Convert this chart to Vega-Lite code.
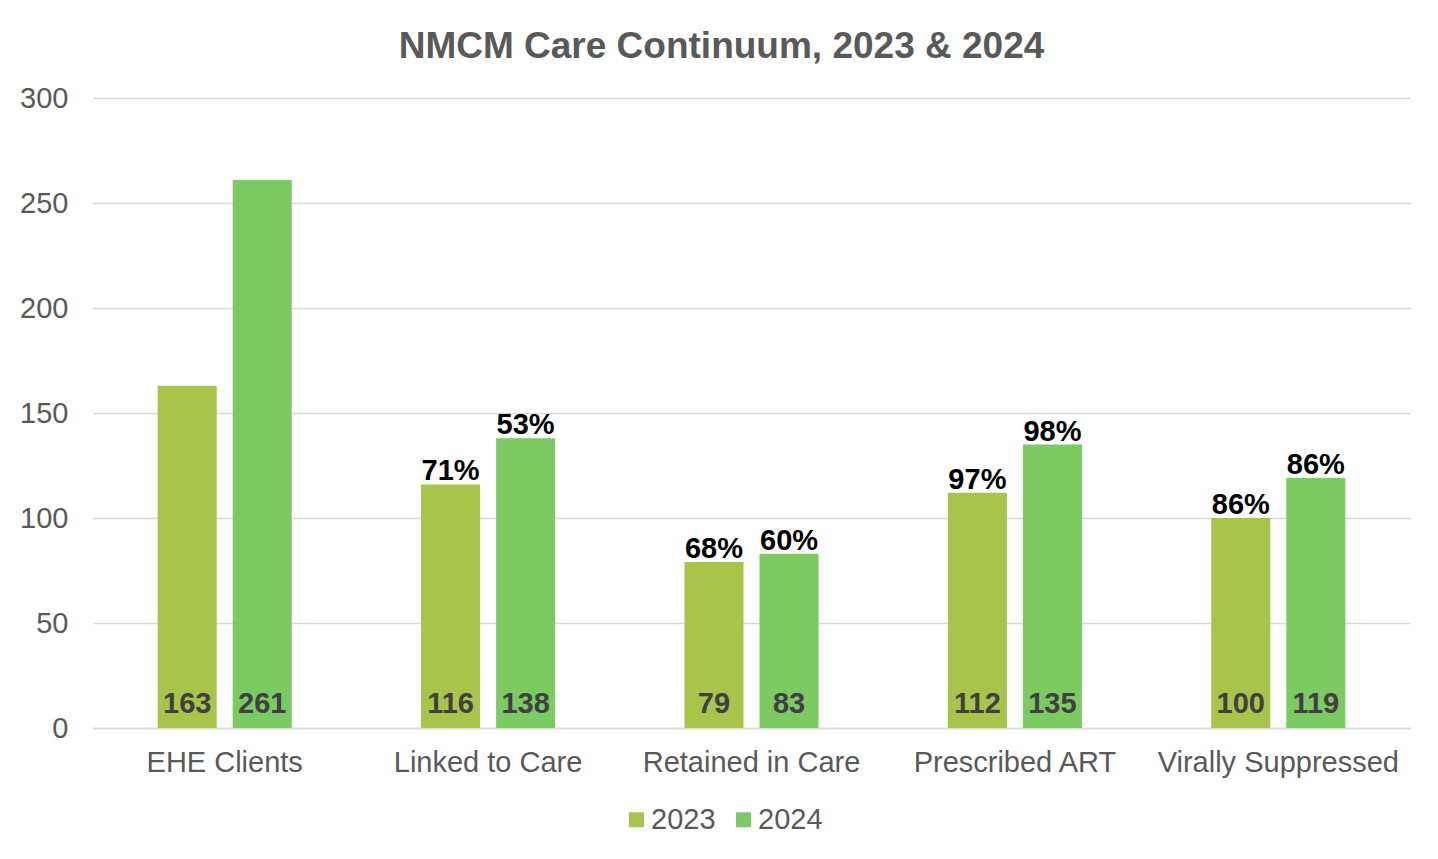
{
  "$schema": "https://vega.github.io/schema/vega-lite/v6.json",
  "width": 1317,
  "height": 630,
  "autosize": {"type": "none"},
  "padding": {"left": 93, "top": 98, "right": 28, "bottom": 131},
  "background": "white",
  "config": {
    "font": "Liberation Sans",
    "view": {"stroke": null}
  },
  "title": {
    "text": "NMCM Care Continuum, 2023 & 2024",
    "fontSize": 37,
    "fontWeight": "bold",
    "color": "#595959",
    "font": "Liberation Sans",
    "anchor": "middle",
    "dx": -30,
    "offset": 18
  },
  "data": {
    "values": [
      {"category": "EHE Clients", "year": "2023", "value": 163, "pct": null},
      {"category": "EHE Clients", "year": "2024", "value": 261, "pct": null},
      {"category": "Linked to Care", "year": "2023", "value": 116, "pct": "71%"},
      {"category": "Linked to Care", "year": "2024", "value": 138, "pct": "53%"},
      {"category": "Retained in Care", "year": "2023", "value": 79, "pct": "68%"},
      {"category": "Retained in Care", "year": "2024", "value": 83, "pct": "60%"},
      {"category": "Prescribed ART", "year": "2023", "value": 112, "pct": "97%"},
      {"category": "Prescribed ART", "year": "2024", "value": 135, "pct": "98%"},
      {"category": "Virally Suppressed", "year": "2023", "value": 100, "pct": "86%"},
      {"category": "Virally Suppressed", "year": "2024", "value": 119, "pct": "86%"}
    ]
  },
  "encoding": {
    "x": {
      "field": "category",
      "type": "nominal",
      "sort": ["EHE Clients", "Linked to Care", "Retained in Care", "Prescribed ART", "Virally Suppressed"],
      "scale": {"paddingInner": 0.491, "paddingOuter": 0.2455},
      "axis": {
        "title": null,
        "labelAngle": 0,
        "labelFontSize": 29,
        "labelColor": "#595959",
        "labelPadding": 20,
        "labelLimit": 0,
        "ticks": false,
        "domainColor": "#D9D9D9",
        "domainWidth": 1.5,
        "grid": false
      }
    },
    "xOffset": {
      "field": "year",
      "type": "nominal",
      "scale": {"paddingInner": 0.213, "paddingOuter": 0}
    }
  },
  "layer": [
    {
      "mark": {"type": "bar"},
      "encoding": {
        "y": {
          "field": "value",
          "type": "quantitative",
          "scale": {"domain": [0, 300], "nice": false},
          "axis": {
            "title": null,
            "values": [0, 50, 100, 150, 200, 250, 300],
            "labelFontSize": 29,
            "labelColor": "#595959",
            "labelPadding": 25,
            "ticks": false,
            "domain": false,
            "gridColor": "#D9D9D9",
            "gridWidth": 1.3
          }
        },
        "color": {
          "field": "year",
          "type": "nominal",
          "scale": {"domain": ["2023", "2024"], "range": ["#A9C44A", "#7BCB62"]},
          "legend": {
            "title": null,
            "orient": "none",
            "direction": "horizontal",
            "legendX": 529,
            "legendY": 707,
            "padding": 0,
            "symbolType": "square",
            "symbolSize": 225,
            "symbolStrokeWidth": 0,
            "labelFontSize": 29,
            "labelColor": "#595959",
            "labelOffset": 0,
            "columnPadding": 13
          }
        }
      }
    },
    {
      "mark": {"type": "text", "baseline": "alphabetic", "dy": -15, "fontSize": 29, "fontWeight": "bold", "color": "#404040"},
      "encoding": {
        "y": {"datum": 0, "type": "quantitative"},
        "text": {"field": "value", "type": "quantitative"}
      }
    },
    {
      "transform": [{"filter": "datum.pct != null"}],
      "mark": {"type": "text", "baseline": "alphabetic", "dy": -4, "fontSize": 29, "fontWeight": "bold", "color": "#000000"},
      "encoding": {
        "y": {"field": "value", "type": "quantitative"},
        "text": {"field": "pct", "type": "nominal"}
      }
    }
  ]
}
